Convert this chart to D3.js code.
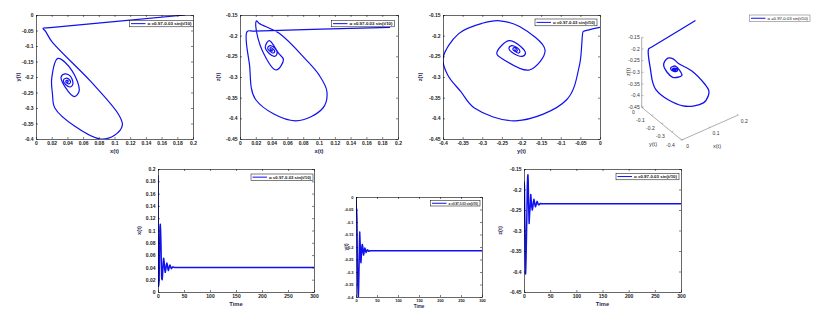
<!DOCTYPE html>
<html>
<head>
<meta charset="utf-8">
<script src="https://cdn.jsdelivr.net/npm/d3@7"></script>
<style>
    body { margin: 0; background: #fff; }
    svg { display: block; font-family: "Liberation Sans", Arial, sans-serif; }
</style>
</head>
<body>
<svg id="fig" width="817" height="312"></svg>
<script>
//  trajectory (time, x, y, z)
const tVals = [0, 0.6, 0.8, 1.5, 2.2, 3.0, 3.8, 4.4, 5.0, 5.6, 6.3, 7.0, 7.5, 8.0, 8.8,
    9.8, 10.8, 11.8, 12.9, 13.9, 15.0, 16.0, 17.0, 18.0, 19.0, 20.0, 21.0, 22.0,
    23.0, 24.0, 25.0, 26.0, 27.5, 29.0, 31.0, 34.0, 300];
const xVals = [0.190, 0.018, 0.009, 0.012, 0.020, 0.070, 0.105, 0.110, 0.100, 0.082, 0.050, 0.024, 0.021, 0.020, 0.028,
    0.046, 0.055, 0.049, 0.037, 0.032, 0.037, 0.044, 0.047, 0.044, 0.038, 0.035, 0.038, 0.042,
    0.044, 0.042, 0.039, 0.038, 0.040, 0.041, 0.040, 0.040, 0.040];
const yVals = [0.000, -0.041, -0.043, -0.052, -0.085, -0.215, -0.320, -0.355, -0.388, -0.400, -0.360, -0.300, -0.255, -0.205, -0.140,
    -0.180, -0.245, -0.263, -0.232, -0.200, -0.190, -0.198, -0.222, -0.232, -0.225, -0.210, -0.204, -0.207,
    -0.217, -0.222, -0.219, -0.213, -0.211, -0.215, -0.217, -0.215, -0.215];
const zVals = [-0.180, -0.189, -0.190, -0.270, -0.355, -0.406, -0.375, -0.335, -0.295, -0.255, -0.195, -0.170, -0.164, -0.178, -0.235,
    -0.283, -0.258, -0.243, -0.212, -0.228, -0.243, -0.250, -0.242, -0.230, -0.224, -0.230, -0.238, -0.242,
    -0.238, -0.233, -0.229, -0.232, -0.237, -0.237, -0.234, -0.235, -0.235];

const legendText = "\u03b1 =0.97-0.03 sin(t/10)";

//  tick labels
const ticksX = [0, 0.02, 0.04, 0.06, 0.08, 0.1, 0.12, 0.14, 0.16, 0.18, 0.2];
const ticksY = [0, -0.05, -0.1, -0.15, -0.2, -0.25, -0.3, -0.35, -0.4];
const ticksZ = [-0.15, -0.2, -0.25, -0.3, -0.35, -0.4, -0.45];
const ticksTime = [0, 50, 100, 150, 200, 250, 300];
const ticks3dX = [0, 0.1, 0.2];
const ticks3dY = [0, -0.1, -0.2, -0.3, -0.4];

const series = { t: tVals, x: xVals, y: yVals, z: zVals };
const blue = "#1010f0";
const svg = d3.select("#fig");

//  box = [left, right, top, bottom], legend = [left, top, width, height]
const panels = [
    { box: [36, 193, 15, 139], xKey: "x", yKey: "y", xDom: [0, 0.2], yDom: [-0.4, 0],
      xTicks: ticksX, yTicks: ticksY, xLabel: "x(t)", yLabel: "y(t)", phase: true,
      legend: [129.5, 20.5, 64, 6.3], fs: 5, yLabDx: 16 },
    { box: [240, 398, 15, 139], xKey: "x", yKey: "z", xDom: [0, 0.2], yDom: [-0.45, -0.15],
      xTicks: ticksX, yTicks: ticksZ, xLabel: "x(t)", yLabel: "z(t)", phase: true,
      legend: [331.5, 20.5, 63, 6.3], fs: 5, yLabDx: 20 },
    { box: [443, 600, 15, 139], xKey: "y", yKey: "z", xDom: [-0.4, 0], yDom: [-0.45, -0.15],
      xTicks: ticksY, yTicks: ticksZ, xLabel: "y(t)", yLabel: "z(t)", phase: true,
      legend: [535, 19, 62, 6.8], fs: 5, yLabDx: 21 },
    { box: [158, 314, 169, 292], xKey: "t", yKey: "x", xDom: [0, 300], yDom: [0, 0.2],
      xTicks: ticksTime, yTicks: ticksX, xLabel: "Time", yLabel: "x(t)", phase: false,
      legend: [251, 174, 62, 6.3], fs: 5, yLabDx: 17 },
    { box: [356, 482, 197, 297], xKey: "t", yKey: "y", xDom: [0, 300], yDom: [-0.4, 0],
      xTicks: ticksTime, yTicks: ticksY, xLabel: "Time", yLabel: "y(t)", phase: false,
      legend: [430.5, 200.5, 49.5, 5.5], fs: 4, yLabDx: 8 },
    { box: [524, 681, 169, 292], xKey: "t", yKey: "z", xDom: [0, 300], yDom: [-0.45, -0.15],
      xTicks: ticksTime, yTicks: ticksZ, xLabel: "Time", yLabel: "z(t)", phase: false,
      legend: [616, 173.3, 63, 6.5], fs: 5, yLabDx: 22 }
];

function styleAxis(g, fs, bold) {
    g.selectAll(".domain").attr("stroke", "#000").attr("stroke-width", 0.6);
    g.selectAll(".tick line").attr("stroke", "#000").attr("stroke-width", 0.5);
    g.selectAll(".tick text").attr("font-size", fs).attr("font-weight", bold ? "bold" : "normal")
        .attr("fill", "#1a1a1a").attr("font-family", "Liberation Sans, Arial, sans-serif");
}

function drawLegend(g, lg, bold, color) {
    const [lx, ly, lw, lh] = lg;
    g.append("rect").attr("x", lx).attr("y", ly).attr("width", lw).attr("height", lh)
        .attr("fill", "#fff").attr("stroke", color || "#000").attr("stroke-width", 0.5);
    g.append("line").attr("x1", lx + 1.5).attr("x2", lx + 16).attr("y1", ly + lh / 2).attr("y2", ly + lh / 2)
        .attr("stroke", blue).attr("stroke-width", 1);
    g.append("text").attr("x", lx + 18).attr("y", ly + lh / 2 + 1.5)
        .attr("font-size", lh * 0.62).attr("font-weight", bold ? "bold" : "normal")
        .attr("fill", "#111").attr("textLength", lw - 20).attr("lengthAdjust", "spacingAndGlyphs")
        .text(legendText);
}

function drawPanel(p, i) {
    const [x0, x1, y0, y1] = p.box;
    const sx = d3.scaleLinear().domain(p.xDom).range([x0, x1]);
    const sy = d3.scaleLinear().domain(p.yDom).range([y1, y0]);
    const g = svg.append("g");
    const fmt = d => String(d);

    //  clip for the curve
    g.append("clipPath").attr("id", "clip" + i).append("rect")
        .attr("x", x0).attr("y", y0).attr("width", x1 - x0).attr("height", y1 - y0);

    const idx = d3.range(tVals.length);
    const line = d3.line()
        .x(k => sx(series[p.xKey][k]))
        .y(k => sy(series[p.yKey][k]))
        .curve(p.phase ? d3.curveCatmullRom.alpha(0.5) : d3.curveLinear);
    g.append("path").datum(idx).attr("d", line).attr("clip-path", `url(#clip${i})`)
        .attr("fill", "none").attr("stroke", blue).attr("stroke-width", p.phase ? 1.2 : 1.5)
        .attr("stroke-linejoin", "round");

    //  axes on all four sides, ticks pointing in
    const bottom = g.append("g").attr("transform", `translate(0,${y1})`)
        .call(d3.axisBottom(sx).tickValues(p.xTicks).tickFormat(fmt).tickSizeInner(-2).tickSizeOuter(0).tickPadding(2.5));
    const left = g.append("g").attr("transform", `translate(${x0},0)`)
        .call(d3.axisLeft(sy).tickValues(p.yTicks).tickFormat(fmt).tickSizeInner(-2).tickSizeOuter(0).tickPadding(2.5));
    const top = g.append("g").attr("transform", `translate(0,${y0})`)
        .call(d3.axisTop(sx).tickValues(p.xTicks).tickFormat("").tickSizeInner(-2).tickSizeOuter(0));
    const right = g.append("g").attr("transform", `translate(${x1},0)`)
        .call(d3.axisRight(sy).tickValues(p.yTicks).tickFormat("").tickSizeInner(-2).tickSizeOuter(0));
    [bottom, left, top, right].forEach(a => styleAxis(a, p.fs, true));

    //  axis labels
    g.append("text").attr("x", (x0 + x1) / 2).attr("y", y1 + p.fs * 2.6 + 1)
        .attr("text-anchor", "middle").attr("font-size", p.fs * 1.15).attr("font-weight", "bold")
        .attr("fill", "#2a2a55").text(p.xLabel);
    g.append("text").attr("transform", `translate(${x0 - p.yLabDx},${(y0 + y1) / 2}) rotate(-90)`)
        .attr("text-anchor", "middle").attr("font-size", p.fs * 1.15).attr("font-weight", "bold")
        .attr("fill", "#2a2a55").text(p.yLabel);

    drawLegend(g, p.legend, true);
}

panels.forEach(drawPanel);

//  3-D view: axis end points on screen
const c3 = { cx: 681.7, cy: 140 };                  //  x = 0, y = -0.4, z = -0.45
const ax3 = { dx: 56.6, dy: -25 };                  //  x: 0 -> 0.2
const ay3 = { dx: -40, dy: -32.7 };                 //  y: -0.4 -> 0
const az3 = { dx: 0, dy: -70 };                     //  z: -0.45 -> -0.15
const fx3 = d3.scaleLinear().domain([0, 0.2]).range([0, 1]);
const fy3 = d3.scaleLinear().domain([-0.4, 0]).range([0, 1]);
const fz3 = d3.scaleLinear().domain([-0.45, -0.15]).range([0, 1]);

function proj(x, y, z) {
    const a = fx3(x), b = fy3(y), c = fz3(z);
    return [c3.cx + a * ax3.dx + b * ay3.dx + c * az3.dx,
            c3.cy + a * ax3.dy + b * ay3.dy + c * az3.dy];
}

const g3 = svg.append("g");
const axisGrey = "#777";
const tickCol = "#333";

//  axes lines
[[proj(0, 0, -0.45), proj(0, 0, -0.15)],
 [proj(0, 0, -0.45), proj(0, -0.4, -0.45)],
 [proj(0, -0.4, -0.45), proj(0.2, -0.4, -0.45)]].forEach(([a, b]) => {
    g3.append("line").attr("x1", a[0]).attr("y1", a[1]).attr("x2", b[0]).attr("y2", b[1])
        .attr("stroke", axisGrey).attr("stroke-width", 0.6);
});

ticksZ.forEach(v => {
    const p = proj(0, 0, v);
    g3.append("line").attr("x1", p[0]).attr("x2", p[0] + 1.8).attr("y1", p[1]).attr("y2", p[1])
        .attr("stroke", axisGrey).attr("stroke-width", 0.5);
    g3.append("text").attr("x", p[0] - 2).attr("y", p[1] + 1.8).attr("text-anchor", "end")
        .attr("font-size", 5).attr("fill", tickCol).text(String(v));
});
ticks3dY.forEach(v => {
    const p = proj(0, v, -0.45);
    g3.append("line").attr("x1", p[0]).attr("x2", p[0] + 1.5).attr("y1", p[1]).attr("y2", p[1] - 0.7)
        .attr("stroke", axisGrey).attr("stroke-width", 0.5);
    g3.append("text").attr("x", p[0] - 7).attr("y", p[1] + 6.5).attr("text-anchor", "end")
        .attr("font-size", 5).attr("fill", tickCol).text(String(v));
});
ticks3dX.forEach(v => {
    const p = proj(v, -0.4, -0.45);
    g3.append("line").attr("x1", p[0]).attr("x2", p[0] - 1.2).attr("y1", p[1]).attr("y2", p[1] - 1)
        .attr("stroke", axisGrey).attr("stroke-width", 0.5);
    g3.append("text").attr("x", p[0] + 6).attr("y", p[1] + 7.5).attr("text-anchor", "middle")
        .attr("font-size", 5).attr("fill", tickCol).text(String(v));
});

g3.append("text").attr("x", 653).attr("y", 146).attr("text-anchor", "middle")
    .attr("font-size", 5.5).attr("fill", tickCol).text("y(t)");
g3.append("text").attr("x", 717).attr("y", 148).attr("text-anchor", "middle")
    .attr("font-size", 5.5).attr("fill", tickCol).text("x(t)");
g3.append("text").attr("transform", "translate(630,72) rotate(-90)").attr("text-anchor", "middle")
    .attr("font-size", 5.5).attr("fill", tickCol).text("z(t)");

const line3 = d3.line()
    .x(k => proj(xVals[k], yVals[k], zVals[k])[0])
    .y(k => proj(xVals[k], yVals[k], zVals[k])[1])
    .curve(d3.curveCatmullRom.alpha(0.5));
g3.append("path").datum(d3.range(tVals.length)).attr("d", line3)
    .attr("fill", "none").attr("stroke", blue).attr("stroke-width", 1.3);

drawLegend(g3, [749.5, 15, 60.5, 6.5], false, "#666");
</script>
</body>
</html>
